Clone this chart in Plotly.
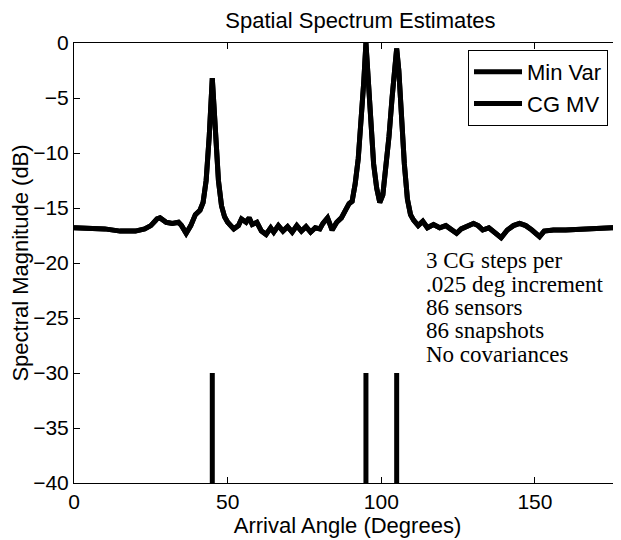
import plotly.graph_objects as go

# Arrival angle (degrees) and spectral magnitude (dB)
angle = [0, 5, 10, 15, 20, 23, 25, 27, 28, 30, 32, 34, 35, 36.5, 38, 39.5, 41, 42, 43, 44, 44.5,
         45, 45.5, 46, 47, 48, 49, 50, 52, 53.5, 54.5, 56, 57, 58, 59.5, 61, 62.5, 64, 65, 66.5,
         68, 69.5, 71, 72.5, 74, 75.5, 77, 78.5, 80, 81, 82.5, 84, 85.5, 87, 88.5, 89.5, 90.5,
         91.5, 92.5, 93.5, 94.3, 95, 95.7, 96.5, 97.5, 98.5, 99.5, 100.5, 101.5, 102.5, 103.5,
         104.3, 105, 105.7, 106.5, 107.5, 108.5, 109.5, 110.5, 112, 113.5, 115, 117, 119, 121,
         123, 124.5, 126, 128, 130, 131.5, 133, 135, 137, 139, 141, 143, 145, 147, 149, 151.5,
         153, 156, 160, 165, 170, 175, 180]
min_var = [-16.8, -16.8, -16.9, -17.1, -17.1, -16.9, -16.6, -16.0, -15.9, -16.3, -16.4, -16.3,
           -16.6, -17.3, -16.6, -15.6, -15.2, -14.5, -12.5, -8.5, -5.5,
           -3.2, -5.5, -8.5, -12.5, -14.8, -15.8, -16.3, -16.9, -16.6, -16.0, -16.3, -15.9, -16.5,
           -16.3, -17.1, -17.4, -16.8, -17.2, -16.6, -17.1, -16.7, -17.2, -16.6, -17.1, -16.7,
           -17.2, -16.8, -16.9, -16.4, -15.9, -17.0, -16.3, -15.9, -15.2, -14.6, -14.4,
           -12.8, -10.5, -7.0, -3.5, 0.0, -3.5, -7.5, -11.0, -13.2, -14.5, -13.8, -11.5, -8.5,
           -5.0, -2.0, -0.5, -2.5, -6.5, -11.0, -14.2, -15.6, -16.1, -16.6, -16.2, -16.8, -16.5,
           -16.8, -16.6, -17.0, -17.3, -16.9, -16.7, -16.4, -16.6, -17.0, -16.8, -17.3, -17.7,
           -17.0, -16.6, -16.4, -16.6, -17.0, -17.6, -17.1, -17.0, -17.0, -16.9, -16.9, -16.8,
           -16.8]
cg_mv = list(min_var)  # overlaps the Min Var curve in the picture

# True source angles, drawn as bars from -40 to -30 dB
source_angles = [45, 95, 105]
bar_bottom = -40
bar_top = -30

notes = ["3 CG steps per", ".025 deg increment", "86 sensors", "86 snapshots", "No covariances"]
note_y = [-19.8, -21.92, -24.04, -26.16, -28.28]

x_ticks = [0, 50, 100, 150]
y_ticks = [0, -5, -10, -15, -20, -25, -30, -35, -40]

bx, by = [], []
for a in source_angles:
    bx += [a, a, None]
    by += [bar_bottom, bar_top, None]

fig = go.Figure()
fig.add_trace(go.Scatter(x=angle, y=min_var, mode="lines", name="Min Var",
                         line=dict(color="black", width=5)))
fig.add_trace(go.Scatter(x=angle, y=cg_mv, mode="lines", name="CG MV",
                         line=dict(color="black", width=5)))
fig.add_trace(go.Scatter(x=bx, y=by, mode="lines", showlegend=False,
                         line=dict(color="black", width=5)))

for t, y in zip(notes, note_y):
    fig.add_annotation(x=114.0, y=y, text=t, showarrow=False, xanchor="left", yanchor="middle",
                       font=dict(family="Liberation Serif", size=23, color="black"))

# The page adds an 8px body margin, so the figure is sized/offset to compensate
fig.update_layout(
    width=613, height=532,
    margin=dict(l=66, r=0, t=35, b=57, autoexpand=False),
    paper_bgcolor="white", plot_bgcolor="white",
    font=dict(family="Liberation Sans", color="black"),
    title=dict(text="Spatial Spectrum Estimates", x=0.575, xanchor="center", y=0.977, yanchor="middle",
               font=dict(family="Liberation Sans", size=22, color="black")),
    legend=dict(x=0.7203, xanchor="left", y=0.984, yanchor="top",
                bgcolor="white", bordercolor="black", borderwidth=1,
                font=dict(family="Liberation Sans", size=22, color="black"),
                tracegroupgap=0, itemwidth=48),
    showlegend=True,
)
fig.update_xaxes(range=[0, 178], tickvals=x_ticks, ticktext=[str(v) for v in x_ticks],
                 automargin=False,
                 showgrid=False, zeroline=False, showline=True, linecolor="black", linewidth=1,
                 mirror="ticks", ticks="inside", ticklen=6, tickcolor="black",
                 tickfont=dict(size=21), title=dict(text="Arrival Angle (Degrees)", font=dict(size=22),
                                                    standoff=0))
fig.update_yaxes(range=[-40, 0], tickvals=y_ticks, automargin=False,
                 showgrid=False, zeroline=False, showline=True, linecolor="black", linewidth=1,
                 mirror=False, ticks="inside", ticklen=6, tickcolor="black",
                 tickfont=dict(size=21), title=dict(text="Spectral Magnitude (dB)", font=dict(size=22),
                                                    standoff=0))

fig.write_html("out.html")
